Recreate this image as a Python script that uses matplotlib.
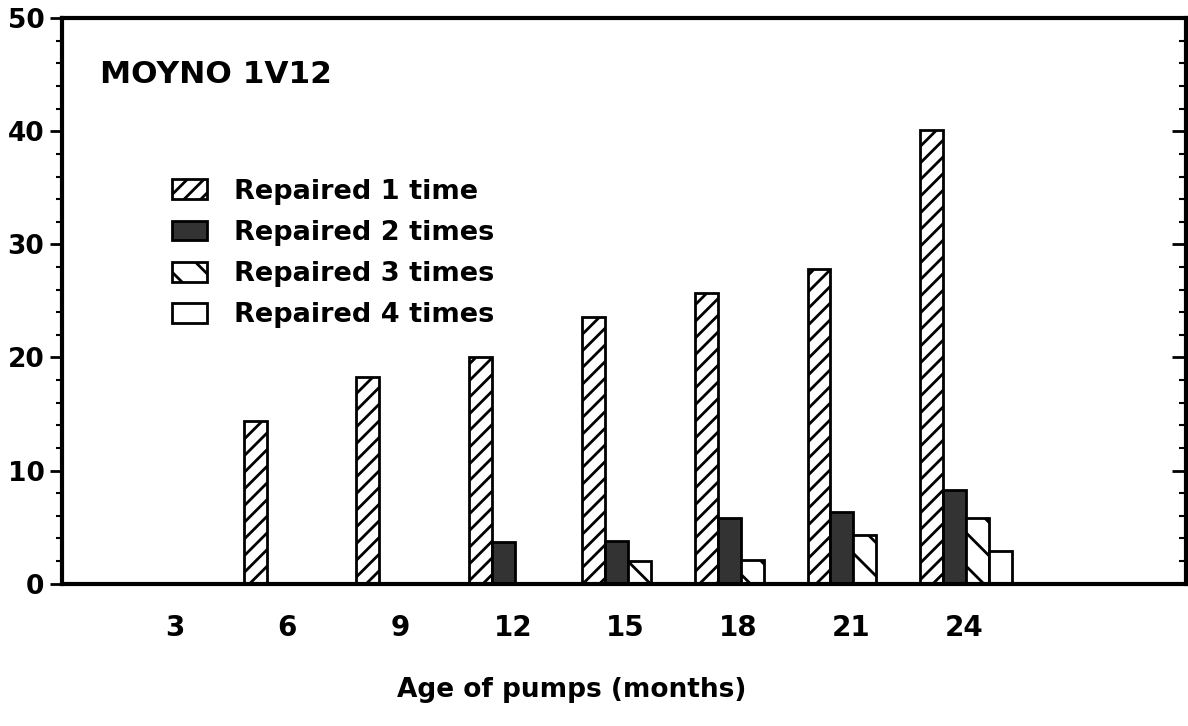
import matplotlib.pyplot as plt
import numpy as np
from matplotlib.ticker import MultipleLocator

# values (number of pumps)
months = [3, 6, 9, 12, 15, 18, 21, 24]
repaired_1 = [0, 14.4, 18.3, 20.0, 23.6, 25.7, 27.8, 40.1]
repaired_2 = [0, 0, 0, 3.7, 3.8, 5.8, 6.3, 8.3]
repaired_3 = [0, 0, 0, 0, 2.0, 2.1, 4.3, 5.8]
repaired_4 = [0, 0, 0, 0, 0, 0, 0, 2.9]
labels = ["Repaired 1 time", "Repaired 2 times", "Repaired 3 times", "Repaired 4 times"]

plt.rcParams['font.family'] = 'DejaVu Sans'
plt.rcParams['font.weight'] = 'bold'
plt.rcParams['hatch.linewidth'] = 2.0

fig = plt.figure(figsize=(11.88, 7.26), dpi=100)
ax = fig.add_axes([0.052, 0.196, 0.946, 0.779])

x = np.array(months, dtype=float)
w = 0.61
series = [repaired_1, repaired_2, repaired_3, repaired_4]
styles = [dict(facecolor='white', hatch='//'),
          dict(facecolor='#333333', hatch=None),
          dict(facecolor='white', hatch='\\'),
          dict(facecolor='white', hatch=None)]
handles = []
for i, (vals, st) in enumerate(zip(series, styles)):
    v = np.array(vals)
    mask = v > 0
    ax.bar(x[mask] + (i - 1.4) * w, v[mask], width=w, align='center',
           edgecolor='black', linewidth=2, **st)
    handles.append(plt.Rectangle((0, 0), 1, 1, edgecolor='black', linewidth=2, **st))

ax.set_xlim(0, 29.9)
ax.set_ylim(0, 50)
ax.set_xticks(months)
ax.set_xticklabels([str(m) for m in months], fontsize=20, fontweight='bold')
ax.tick_params(axis='x', length=0, pad=22)
ax.yaxis.set_major_locator(MultipleLocator(10))
ax.yaxis.set_minor_locator(MultipleLocator(2))
ax.tick_params(axis='y', which='major', direction='out', length=9, width=2, labelsize=19)
ax.tick_params(axis='y', which='minor', direction='out', length=4, width=1.5)
for t in ax.get_yticklabels():
    t.set_fontweight('bold')
for s in ax.spines.values():
    s.set_linewidth(3)

# right side ticks point inward
ax2 = ax.twinx()
ax2.set_ylim(0, 50)
ax2.yaxis.set_major_locator(MultipleLocator(10))
ax2.yaxis.set_minor_locator(MultipleLocator(2))
ax2.tick_params(axis='y', which='major', direction='in', length=10, width=2, labelright=False)
ax2.tick_params(axis='y', which='minor', direction='in', length=5, width=1.5)
for s in ax2.spines.values():
    s.set_visible(False)

ax.set_xlabel("Age of pumps (months)", fontsize=19, fontweight='bold')
ax.xaxis.set_label_coords(0.454, -0.165)
ax.text(0.034, 0.9, "MOYNO 1V12", transform=ax.transAxes, fontsize=22.5,
        fontweight='bold', va='center', ha='left')

leg = ax.legend(handles, labels, loc='upper left', bbox_to_anchor=(0.098, 0.716),
                frameon=False, fontsize=19.5, handlelength=1.3, handleheight=0.75,
                labelspacing=0.56, handletextpad=1.0, borderaxespad=0, borderpad=0)
for t in leg.get_texts():
    t.set_fontweight('bold')

fig.savefig("out.png", dpi=100)
